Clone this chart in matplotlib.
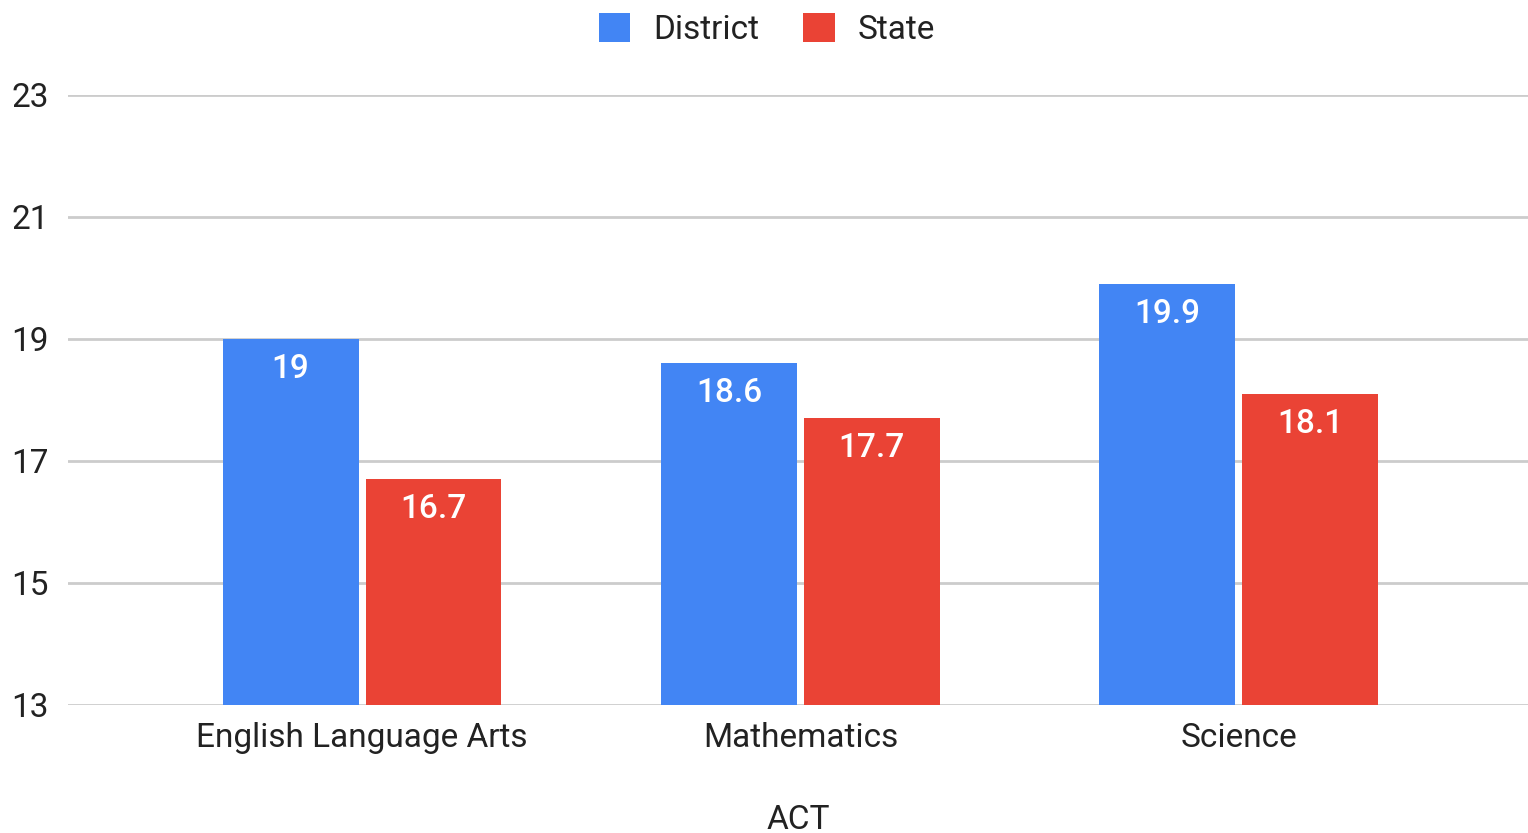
import matplotlib
matplotlib.use("Agg")
import matplotlib.pyplot as plt
import numpy as np

categories = ["English Language Arts", "Mathematics", "Science"]
district = [19, 18.6, 19.9]
state = [16.7, 17.7, 18.1]
yticks = [13, 15, 17, 19, 21, 23]
series_names = ["District", "State"]
colors = ["#4285F4", "#EA4335"]

plt.rcParams['font.family'] = ['Roboto', 'DejaVu Sans']

fig = plt.figure(figsize=(15.28, 8.33), dpi=100)
ax = fig.add_axes([0.0445, 0.1537, 0.9555, 0.7323])

x = np.arange(len(categories))
w = 0.31
off = 0.163
b1 = ax.bar(x - off, np.array(district) - 13, w, bottom=13, color=colors[0], label=series_names[0], zorder=3)
b2 = ax.bar(x + off, np.array(state) - 13, w, bottom=13, color=colors[1], label=series_names[1], zorder=3)

for bars, vals in ((b1, district), (b2, state)):
    for r, v in zip(bars, vals):
        ax.text(r.get_x() + r.get_width() / 2, v - 0.49, f"{v:g}", ha="center", va="center",
                color="white", fontsize=24, fontweight='medium', zorder=4)

ax.set_ylim(13, 23)
ax.set_xlim(-0.671, 2.66)
ax.set_yticks(yticks)
ax.set_yticklabels([str(t) for t in yticks])
ax.set_xticks(x)
ax.set_xticklabels(categories)
ax.tick_params(axis='both', length=0, labelsize=24, colors='#222222')
ax.tick_params(axis='y', pad=14)
ax.tick_params(axis='x', pad=12)
ax.grid(axis='y', color='#cccccc', linewidth=2, zorder=0)
for s in ax.spines.values():
    s.set_visible(False)
ax.set_xlabel("ACT", fontsize=24, color='#222222', labelpad=36)

leg = fig.legend(loc='upper center', bbox_to_anchor=(0.502, 1.02), ncol=2, frameon=False,
                 fontsize=24, handlelength=0.95, handleheight=0.95, columnspacing=1.3, handletextpad=0.7)
for t in leg.get_texts():
    t.set_color('#222222')

fig.savefig("out.png", dpi=100)
